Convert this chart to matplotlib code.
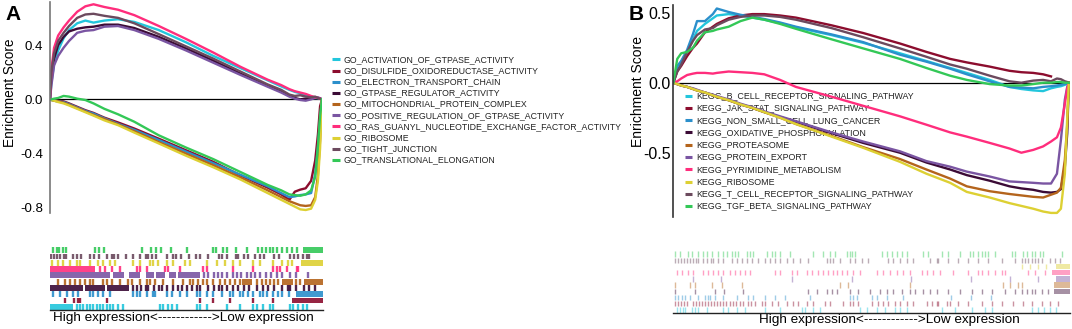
import matplotlib
matplotlib.use("Agg")
import matplotlib.pyplot as plt
from matplotlib.lines import Line2D
import numpy as np

plt.rcParams['font.family'] = ['Liberation Sans', 'DejaVu Sans']

# ---------------- Panel A data ----------------
a_names = ["GO_ACTIVATION_OF_GTPASE_ACTIVITY", "GO_DISULFIDE_OXIDOREDUCTASE_ACTIVITY",
           "GO_ELECTRON_TRANSPORT_CHAIN", "GO_GTPASE_REGULATOR_ACTIVITY",
           "GO_MITOCHONDRIAL_PROTEIN_COMPLEX", "GO_POSITIVE_REGULATION_OF_GTPASE_ACTIVITY",
           "GO_RAS_GUANYL_NUCLEOTIDE_EXCHANGE_FACTOR_ACTIVITY", "GO_RIBOSOME",
           "GO_TIGHT_JUNCTION", "GO_TRANSLATIONAL_ELONGATION"]
a_colors = ["#22c6dc", "#8c0d2e", "#2b8fcb", "#3b0b36", "#b4641c",
            "#7a55a2", "#ff2d7c", "#ddd033", "#6c4a5e", "#33c857"]

a_rank = [0, 0.005, 0.015, 0.03, 0.05, 0.07, 0.10, 0.13, 0.16, 0.20, 0.25, 0.31, 0.40,
          0.50, 0.60, 0.70, 0.80, 0.85, 0.88, 0.90, 0.92, 0.94, 0.96, 0.975, 0.985, 0.993, 1.0]

a_es_activation = [0, 0.12, 0.26, 0.36, 0.45, 0.51, 0.56, 0.58, 0.565, 0.58, 0.59, 0.57, 0.51,
                   0.42, 0.32, 0.23, 0.14, 0.095, 0.07, 0.055, 0.045, 0.03, 0.02, 0.01, 0.008, 0.004, 0]
a_es_disulfide = [0, 0, -0.005, -0.01, -0.015, -0.03, -0.055, -0.08, -0.10, -0.135, -0.17, -0.215, -0.29,
                  -0.375, -0.46, -0.56, -0.65, -0.70, -0.74, -0.68, -0.665, -0.655, -0.60, -0.45, -0.26, -0.05, 0]
a_es_electron = [0, -0.005, -0.01, -0.015, -0.02, -0.035, -0.06, -0.085, -0.105, -0.14, -0.18, -0.225, -0.30,
                 -0.385, -0.47, -0.555, -0.64, -0.69, -0.72, -0.715, -0.705, -0.70, -0.69, -0.55, -0.35, -0.15, 0]
a_es_gtpase_reg = [0, 0.18, 0.30, 0.40, 0.46, 0.50, 0.52, 0.53, 0.535, 0.55, 0.55, 0.525, 0.46,
                   0.375, 0.285, 0.19, 0.10, 0.06, 0.03, 0.01, 0.0, 0.005, 0.01, 0.015, 0.01, 0.005, 0]
a_es_mito = [0, -0.005, -0.01, -0.015, -0.025, -0.04, -0.065, -0.09, -0.115, -0.145, -0.185, -0.235, -0.315,
             -0.40, -0.485, -0.575, -0.67, -0.72, -0.75, -0.765, -0.78, -0.785, -0.78, -0.72, -0.56, -0.30, 0]
a_es_pos_reg = [0, 0.10, 0.25, 0.32, 0.38, 0.43, 0.49, 0.505, 0.51, 0.535, 0.54, 0.51, 0.445,
                0.36, 0.27, 0.18, 0.093, 0.05, 0.02, 0.005, -0.005, -0.01, 0.0, 0.01, 0.015, 0.008, 0]
a_es_ras = [0, 0.22, 0.38, 0.47, 0.53, 0.58, 0.645, 0.685, 0.70, 0.68, 0.66, 0.62, 0.54,
            0.445, 0.345, 0.24, 0.145, 0.105, 0.075, 0.06, 0.05, 0.04, 0.025, 0.015, 0.01, 0.005, 0]
a_es_ribosome = [0, -0.005, -0.01, -0.02, -0.03, -0.045, -0.07, -0.095, -0.12, -0.155, -0.19, -0.245, -0.325,
                 -0.415, -0.50, -0.59, -0.69, -0.74, -0.77, -0.79, -0.81, -0.815, -0.805, -0.74, -0.60, -0.36, 0]
a_es_tight = [0, 0.20, 0.34, 0.43, 0.49, 0.54, 0.60, 0.625, 0.63, 0.615, 0.60, 0.56, 0.48,
              0.39, 0.30, 0.205, 0.11, 0.07, 0.035, 0.025, 0.03, 0.02, 0.015, 0.02, 0.01, 0.005, 0]
a_es_transl = [0, 0, 0.005, 0.01, 0.025, 0.02, 0.005, -0.005, -0.03, -0.07, -0.11, -0.165, -0.265,
               -0.355, -0.44, -0.535, -0.63, -0.67, -0.70, -0.705, -0.71, -0.70, -0.67, -0.57, -0.35, -0.12, 0]
a_es = [a_es_activation, a_es_disulfide, a_es_electron, a_es_gtpase_reg, a_es_mito,
        a_es_pos_reg, a_es_ras, a_es_ribosome, a_es_tight, a_es_transl]
a_yticks = [-0.8, -0.4, 0.0, 0.4]

# hit positions (percent of ranked list) for the rug, legend order
a_hits = [
    [9.8, 11, 12.2, 13.4, 14.7, 15.9, 17.1, 18.3, 19.5, 20.8, 22, 23.2, 25, 26.9, 40.3, 41.5, 43.3, 44.6, 46.4,
     53.7, 54.9, 57.4, 64.7, 69.6, 74.5, 75.7, 78.1, 80.6, 81.8, 87.9, 89.1, 90.9, 92.8, 94],
    [5.5, 8.8, 10.3, 11, 20.9, 55, 59.8, 66, 74.5, 81.8],
    [1.2, 3.7, 6.1, 8.5, 10.4, 14.7, 15.9, 17.7, 19.5, 22, 30.5, 31.7, 33, 35.4, 37.8, 38.5, 42.7, 44.6, 47.6,
     50, 53.7, 54.9, 57.4, 59.8, 62.9, 66, 67.2, 69.6, 70.8, 72.5, 74.4, 76.8, 78, 79.4, 81.8, 83.5, 85.1, 87.5],
    [30.5, 32, 33.5, 35, 36, 38, 40, 41, 43, 45, 47, 48.5, 50, 52, 54, 55, 58, 60, 62, 63, 65, 67, 69, 71, 73,
     76, 78, 80, 82, 85, 87, 88, 90, 93, 95, 97],
    [3, 5.5, 7.3, 9.2, 11, 12.8, 14.7, 15.9, 19.5, 20.8, 22.6, 25.6, 28.7, 29.9, 33, 35.4, 36.6, 38.5, 41.5,
     45.2, 48.8, 51.3, 52.5, 54.3, 56.2, 57.4, 59.8, 62.3, 64.1, 66, 67.8, 69.6, 76, 77.5, 79, 80.5, 82, 83.5,
     90, 91.5],
    [56.5, 58, 60, 61.5, 63, 65, 67, 68.5, 70, 72, 73.5, 75, 77, 79, 81, 83, 85, 88, 90, 94.5],
    [18.3, 20.1, 22.6, 25.6, 31.7, 33, 35.4, 42.1, 43.3, 47.6, 56.2, 57.4, 67.2, 74.5, 81.8, 83, 84.2, 86.7,
     90.3, 91],
    [0.6, 3, 4.9, 7.3, 9.8, 11, 14.7, 17.7, 19.5, 22, 23.8, 30.5, 33, 36.6, 37.8, 39.7, 42.7, 45.2, 49.4, 51.3,
     57.4, 61, 64, 67, 69.6, 74.5, 77, 81.8, 84.8, 87.3, 88.5],
    [0.5, 1.5, 2.5, 3.5, 5, 6, 8.5, 10, 11.5, 14.7, 16, 18, 21, 22.7, 23.5, 25, 28, 30.5, 33, 35, 36, 37.5,
     39, 42.7, 45, 46, 48, 51, 53.5, 55, 58, 62, 63, 65, 68, 69, 71, 72.5, 75, 77, 78.5, 82, 84, 88, 89.5, 91,
     92.5, 94, 95],
    [1.2, 2.4, 3.4, 4.6, 5.9, 16.5, 18, 19.8, 33.6, 36.9, 39, 40.5, 44.2, 50, 59.8, 60.8, 63.2, 64.7, 68, 72,
     76.3, 77.5, 79, 80.6, 81.8, 83.3, 84.9, 86.7, 88.5, 90.4],
]
# dense runs of hits (start, end) in percent
a_runs = [
    [(0, 8.5)], [(88.5, 100)], [(90, 100)], [(0, 12), (13, 20), (21, 29)],
    [(70.5, 74), (85, 89), (93, 100)],
    [(0, 22), (23, 27), (29, 33), (35, 38), (39, 42), (43.5, 46), (47, 55)],
    [(0, 16.5)], [(92, 100)], [], [(92.8, 100)],
]

# ---------------- Panel B data ----------------
b_names = ["KEGG_B_CELL_RECEPTOR_SIGNALING_PATHWAY", "KEGG_JAK_STAT_SIGNALING_PATHWAY",
           "KEGG_NON_SMALL_CELL_LUNG_CANCER", "KEGG_OXIDATIVE_PHOSPHORYLATION",
           "KEGG_PROTEASOME", "KEGG_PROTEIN_EXPORT", "KEGG_PYRIMIDINE_METABOLISM",
           "KEGG_RIBOSOME", "KEGG_T_CELL_RECEPTOR_SIGNALING_PATHWAY", "KEGG_TGF_BETA_SIGNALING_PATHWAY"]
b_colors = ["#22c6dc", "#8c0d2e", "#2b8fcb", "#3b0b36", "#b4641c",
            "#7a55a2", "#ff2d7c", "#ddd033", "#6c4a5e", "#33c857"]

b_rank = [0, 0.01, 0.02, 0.035, 0.05, 0.06, 0.08, 0.10, 0.11, 0.14, 0.17, 0.20, 0.23, 0.27, 0.31, 0.40,
          0.48, 0.573, 0.64, 0.70, 0.742, 0.80, 0.85, 0.88, 0.91, 0.935, 0.955, 0.97, 0.98, 0.99, 0.996, 1.0]

b_es_bcell = [0, 0.10, 0.15, 0.22, 0.31, 0.37, 0.42, 0.46, 0.48, 0.49, 0.48, 0.465, 0.45, 0.425, 0.395, 0.34,
              0.285, 0.21, 0.155, 0.105, 0.07, 0.02, -0.03, -0.045, -0.055, -0.06, -0.04, -0.03, -0.025, -0.015, -0.005, 0]
b_es_jak = [0, 0.08, 0.12, 0.19, 0.25, 0.28, 0.36, 0.40, 0.42, 0.46, 0.48, 0.49, 0.49, 0.48, 0.465, 0.41,
            0.355, 0.28, 0.22, 0.17, 0.145, 0.115, 0.085, 0.075, 0.07, 0.06, 0.045, None, None, None, None, None]
b_es_nsclc = [0, 0.12, 0.155, 0.235, 0.35, 0.44, 0.44, 0.49, 0.53, 0.505, 0.485, 0.47, 0.455, 0.43, 0.40, 0.345,
              0.29, 0.20, 0.15, 0.10, 0.06, 0.01, -0.03, -0.035, -0.04, -0.03, -0.025, -0.02, -0.015, -0.01, -0.005, 0]
b_es_oxphos = [0, -0.01, -0.02, -0.03, -0.045, -0.055, -0.07, -0.09, -0.10, -0.125, -0.155, -0.18, -0.21, -0.245,
               -0.28, -0.36, -0.43, -0.50, -0.57, -0.62, -0.66, -0.70, -0.74, -0.755, -0.765, -0.78, -0.785, -0.78,
               -0.76, -0.60, -0.36, 0]
b_es_proteasome = [0, -0.01, -0.02, -0.03, -0.045, -0.055, -0.07, -0.09, -0.10, -0.125, -0.155, -0.18, -0.21, -0.25,
                   -0.295, -0.38, -0.46, -0.545, -0.62, -0.685, -0.74, -0.775, -0.795, -0.805, -0.815, -0.82, -0.80,
                   -0.785, -0.75, -0.55, -0.30, 0]
b_es_export = [0, -0.01, -0.02, -0.03, -0.04, -0.05, -0.07, -0.085, -0.095, -0.12, -0.15, -0.175, -0.205, -0.24,
               -0.275, -0.355, -0.42, -0.49, -0.56, -0.60, -0.635, -0.67, -0.705, -0.71, -0.715, -0.72, -0.72, -0.65,
               -0.41, -0.12, -0.03, 0]
b_es_pyrimidine = [0, 0.01, 0.03, 0.055, 0.065, 0.07, 0.07, 0.065, 0.07, 0.08, 0.075, 0.07, 0.06, 0.02, -0.03, -0.10,
                   -0.165, -0.24, -0.30, -0.355, -0.385, -0.43, -0.47, -0.50, -0.48, -0.455, -0.42, -0.39, -0.32,
                   -0.15, -0.04, 0]
b_es_ribosome = [0, -0.01, -0.02, -0.03, -0.045, -0.055, -0.07, -0.09, -0.10, -0.125, -0.155, -0.18, -0.21, -0.25,
                 -0.295, -0.385, -0.465, -0.565, -0.65, -0.715, -0.78, -0.82, -0.86, -0.88, -0.90, -0.92, -0.93,
                 -0.93, -0.90, -0.65, -0.25, 0]
b_es_tcell = [0, 0.08, 0.13, 0.22, 0.30, 0.34, 0.38, 0.39, 0.41, 0.45, 0.47, 0.48, 0.48, 0.47, 0.45, 0.39,
              0.325, 0.245, 0.185, 0.13, 0.10, 0.05, 0.01, 0.0, 0.015, 0.02, 0.01, 0.03, 0.025, 0.01, 0.005, 0]
b_es_tgf = [0, 0.17, 0.21, 0.22, 0.25, 0.30, 0.36, 0.37, 0.38, 0.40, 0.44, 0.465, 0.45, 0.42, 0.385, 0.31,
            0.245, 0.17, 0.105, 0.05, 0.02, -0.01, -0.02, -0.02, -0.01, 0.0, 0.0, 0.005, 0.005, 0.0, 0.0, 0]
b_es = [b_es_bcell, b_es_jak, b_es_nsclc, b_es_oxphos, b_es_proteasome, b_es_export,
        b_es_pyrimidine, b_es_ribosome, b_es_tcell, b_es_tgf]
b_draw_order = [7, 4, 3, 5, 6, 0, 2, 8, 1, 9]
b_yticks = [-0.5, 0.0, 0.5]

b_hits = [
    [1, 1.8, 2.5, 3, 4.8, 5.5, 6.3, 8.6, 12.6, 13.9, 16.1, 18.1, 23.2, 27, 32.5, 33.2, 35.3, 37, 47.1, 48.9,
     51.4, 53.4, 55.9, 57.2, 58.9, 67.8, 71, 75.3, 78.6, 80.4, 90.4, 91.9, 93.4, 95, 96.5],
    [0.5, 1.3, 2, 2.8, 3.5, 5, 5.8, 6.5, 7.3, 8.1, 8.8, 9.6, 10.3, 11.1, 11.8, 12.6, 13.3, 14.4, 15.1, 15.9,
     16.9, 17.6, 18.9, 19.6, 20.6, 22.4, 23.2, 25, 26.4, 28.7, 30.2, 31.5, 33.8, 35.3, 38.3, 39.5, 42.8, 44.6,
     45.3, 46.6, 50.1, 51.6, 52.9, 54.2, 55.9, 57.2, 58.9, 60.5, 64, 65.2, 66.5, 66.8, 69, 69.8, 71.8, 74.3,
     77.8, 80.4, 82.9, 85.6, 88.2, 90.4, 92.9, 95, 97],
    [0.5, 1.3, 2.3, 3, 4.3, 6.3, 8.1, 8.8, 9.3, 10.6, 12.6, 16.1, 18.9, 20.2, 23.2, 25.7, 28.2, 34.5, 44.6,
     45.3, 46.3, 50.1, 51.4, 53.9, 57.9, 70, 75, 80],
    [0.5, 5.5, 10.6, 12.8, 17.6, 34, 36.3, 38.8, 40, 41.3, 44.6, 46.6, 49.6, 52.1, 53.9, 55.4, 57.7, 59.7, 61,
     63, 64.7, 66.5, 69.3, 72.3, 75.3, 77.8, 80.4, 83.6, 86.1, 87.9, 89.2, 90.4, 91.2, 92.9, 94.5],
    [0.5, 4.3, 5.5, 9.8, 12.3, 17.4, 42, 44, 59.7, 83, 85, 87, 88],
    [5, 12, 30, 45, 60, 75, 85, 92],
    [1, 2.3, 3.8, 5, 7.6, 8.8, 10.1, 11.3, 12.6, 14.4, 15.6, 16.9, 18.1, 19.4, 25.7, 26.9, 30, 31.2, 33.8, 35,
     36.5, 37.8, 39, 40.3, 41.3, 42.6, 43.8, 45.3, 47.1, 51.4, 52.9, 54.7, 56.4, 57.9, 59.7, 62.7, 64, 65.5,
     67.3, 70.5, 74.3, 76.8, 77.8, 79.3, 81.1, 82.9, 83.6, 89.4, 91.2, 93.7],
    [88, 90, 92, 94],
    [0.5, 1.3, 2, 2.8, 3.5, 4.3, 5, 5.8, 6.3, 7.6, 8.6, 9.6, 10.1, 11.3, 12.6, 14.9, 16.1, 17.4, 18.6, 19.9,
     21.4, 23.2, 24.4, 25.7, 27, 28.7, 30.2, 32, 34, 38.8, 39.5, 40.3, 42.1, 44.6, 45.8, 47.6, 49.1, 54.2,
     55.4, 57.2, 58.9, 60.5, 64.7, 66.5, 66.8, 69.3, 71.8, 74.3, 76.8, 79.3, 82.9, 86.1, 87.9, 88.7, 89.4,
     90.4, 91.2, 91.9, 92.9, 95, 96.2, 97.5],
    [0.5, 1.8, 3.8, 4.8, 6.3, 7.6, 8.6, 9.8, 11.3, 12.6, 13.6, 14.9, 15.6, 16.4, 18.6, 19.4, 20.2, 23.7, 25,
     25.7, 27, 29.5, 35.3, 37.8, 39.5, 40.8, 43.8, 44.5, 45.2, 45.8, 52.6, 53.9, 55.2, 56.4, 57.7, 59, 63,
     64.2, 67.8, 69.3, 72.3, 74.8, 75.6, 76.8, 77.8, 78.6, 79.3, 81.1, 85.4, 86.1, 88.2, 89.2, 90.4, 91.2,
     92.4, 93.2, 98],
]
b_runs = [[], [], [], [(96, 100)], [(96, 100)], [(96.5, 100)], [(95.5, 100)], [(96.5, 100)], [], []]

rug_label = "High expression<------------>Low expression"

# ---------------- Figure ----------------
W, H = 1072, 329
fig = plt.figure(figsize=(W / 100, H / 100), dpi=100)


def box(left, top, right, bottom):
    return [left / W, 1 - bottom / H, (right - left) / W, (bottom - top) / H]


def es_panel(ax, rank, es, colors, order, yticks, ylim, xmax, spine_col, tick_fs, pad):
    for i in order:
        y = np.array([np.nan if v is None else v for v in es[i]], dtype=float)
        ax.plot(rank, y, color=colors[i], lw=1.7, solid_joinstyle='round', zorder=2 + i * 0.01)
    ax.axhline(0, color='black', lw=0.9, zorder=1.5)
    ax.set_xlim(0, xmax)
    ax.set_ylim(*ylim)
    ax.set_yticks(yticks)
    ax.set_yticklabels([f"{t:.1f}" for t in yticks])
    ax.tick_params(axis='y', length=0, labelsize=tick_fs, pad=pad)
    ax.set_xticks([])
    for s in ['top', 'right', 'bottom']:
        ax.spines[s].set_visible(False)
    ax.spines['left'].set_color(spine_col)
    ax.spines['left'].set_linewidth(1.2)
    ax.patch.set_alpha(0)


def rug_panel(ax, hits, runs, colors, alpha, lw, lo, hi):
    for i, (h, r, c) in enumerate(zip(hits, runs, colors)):
        ax.vlines(h, i + lo, i + hi, colors=c, lw=lw, alpha=alpha)
        if r:
            ax.broken_barh([(s, e - s) for s, e in r], (i + lo, hi - lo), facecolors=c, alpha=alpha, lw=0)
    ax.set_xlim(0, 100)
    ax.set_ylim(0, len(hits))
    ax.set_xticks([])
    ax.set_yticks([])
    for s in ['top', 'right', 'left']:
        ax.spines[s].set_visible(False)
    ax.spines['bottom'].set_linewidth(1.0)
    ax.spines['bottom'].set_color('#222222')


def legend_rows(ax, names, colors, x_handle, x_text, y0, dy, fs, hlen):
    for i, (n, c) in enumerate(zip(names, colors)):
        y = 1 - (y0 + i * dy) / H
        ax.add_artist(Line2D([x_handle / W, (x_handle + hlen) / W], [y, y], transform=fig.transFigure,
                             color=c, lw=2.2, solid_capstyle='butt', zorder=1, clip_on=False))
        ax.text(x_text / W, y, n, transform=fig.transFigure, fontsize=fs, va='center', ha='left',
                color='#222222', zorder=1, clip_on=False)


# Panel A
axA = fig.add_axes(box(50, 1.7, 322, 213))
es_panel(axA, a_rank, a_es, a_colors, range(10), a_yticks, (-0.837, 0.719), 1.0, '#777777', 9.5, 5)
legend_rows(axA, a_names, a_colors, 332, 344, 59.3, 11.2, 6.3, 8)
fig.text(10 / W, 1 - 93 / H, "Enrichment Score", rotation=90, fontsize=9.8, va='center', ha='center')
fig.text(13 / W, 1 - 15 / H, "A", fontsize=15, fontweight='bold', va='center', ha='center')

rugA = fig.add_axes(box(50, 247, 323, 310))
rug_panel(rugA, a_hits, a_runs, a_colors, 0.9, 1.7, 0.04, 0.96)
fig.text(183 / W, 1 - 318 / H, rug_label, fontsize=9.7, va='center', ha='center')

# Panel B
axB = fig.add_axes(box(673.3, 5, 1070, 216.7))
es_panel(axB, b_rank, b_es, b_colors, b_draw_order, b_yticks, (-0.957, 0.555), 1.003, '#333333', 11.5, 2)
legend_rows(axB, b_names, b_colors, 685, 696, 95.7, 12.26, 6.4, 7)
fig.text(638 / W, 1 - 92 / H, "Enrichment Score", rotation=90, fontsize=10, va='center', ha='center')
fig.text(636 / W, 1 - 15 / H, "B", fontsize=15, fontweight='bold', va='center', ha='center')

rugB = fig.add_axes(box(673, 251, 1070, 313))
rug_panel(rugB, b_hits, b_runs, b_colors, 0.45, 1.0, 0.08, 0.92)
fig.text(889 / W, 1 - 320 / H, rug_label, fontsize=9.7, va='center', ha='center')

fig.savefig("out.png", dpi=100)
